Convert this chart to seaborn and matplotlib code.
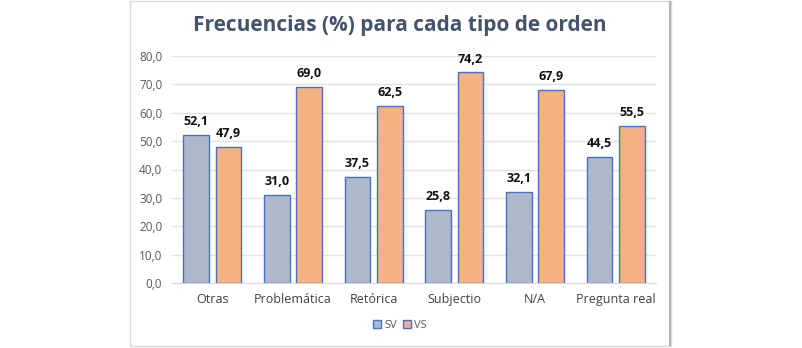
import matplotlib
matplotlib.use("Agg")
import matplotlib.pyplot as plt
import seaborn as sns
import pandas as pd
from matplotlib.patches import Rectangle

categories = ["Otras", "Problemática", "Retórica", "Subjectio", "N/A", "Pregunta real"]
sv_values = [52.1, 31.0, 37.5, 25.8, 32.1, 44.5]
vs_values = [47.9, 69.0, 62.5, 74.2, 67.9, 55.5]
series = ["SV", "VS"]
title = "Frecuencias (%) para cada tipo de orden"

df = pd.DataFrame({
    "cat": categories * 2,
    "serie": ["SV"] * len(categories) + ["VS"] * len(categories),
    "val": sv_values + vs_values,
})

sns.set_style("white")
plt.rcParams["font.family"] = ["Open Sans", "DejaVu Sans"]

fig = plt.figure(figsize=(8.03, 3.48), dpi=100)
fig.patch.set_facecolor("white")

# chart frame
fig.patches.append(Rectangle((130 / 803, 2 / 348), (671 - 130) / 803, (347 - 2) / 348,
                             transform=fig.transFigure, fill=False,
                             edgecolor="#D9D9D9", linewidth=1.0))
fig.patches.append(Rectangle((670.5 / 803, 2 / 348), 0, (347 - 2) / 348,
                             transform=fig.transFigure, fill=False,
                             edgecolor="#A6A6A6", linewidth=1.2))

ax = fig.add_axes([172 / 803, 1 - 283 / 348, (656 - 172) / 803, (283 - 56) / 348])
palette = {"SV": "#ADB9CA", "VS": "#F4B183"}
sns.barplot(data=df, x="cat", y="val", hue="serie", order=categories,
            hue_order=series, palette=palette, width=0.8, gap=0.2,
            edgecolor="#4472C4", linewidth=1.0, saturation=1, ax=ax, legend=True,
            errorbar=None)

ax.set_ylim(0, 80)
ax.set_yticks(range(0, 81, 10))
ax.set_yticklabels([f"{v:.1f}".replace(".", ",") for v in range(0, 81, 10)],
                   fontsize=8.5, color="#595959")
ax.tick_params(axis="x", labelsize=9, colors="#404040", length=0, pad=7)
ax.tick_params(axis="y", length=0, pad=7)
ax.set_xlabel("")
ax.set_ylabel("")
ax.grid(axis="y", color="#E3E3E3", linewidth=1)
ax.set_axisbelow(True)
for s in ["top", "right", "left"]:
    ax.spines[s].set_visible(False)
ax.spines["bottom"].set_color("#D9D9D9")

for cont in ax.containers:
    ax.bar_label(cont, labels=[f"{v:.1f}".replace(".", ",") for v in cont.datavalues],
                 padding=5, fontsize=9, fontweight="bold", color="#111111")

leg = ax.legend(loc="center", bbox_to_anchor=((400 - 172) / (656 - 172), -(325 - 283) / (283 - 56)),
                ncol=2, frameon=False, fontsize=8, handlelength=0.7, handleheight=0.7,
                columnspacing=0.6, handletextpad=0.3, labelcolor="#595959")

fig.text(400 / 803, 1 - 26 / 348, title, ha="center", va="center",
         fontsize=15, fontweight="bold", color="#44546A")

fig.savefig("out.png", dpi=100)
